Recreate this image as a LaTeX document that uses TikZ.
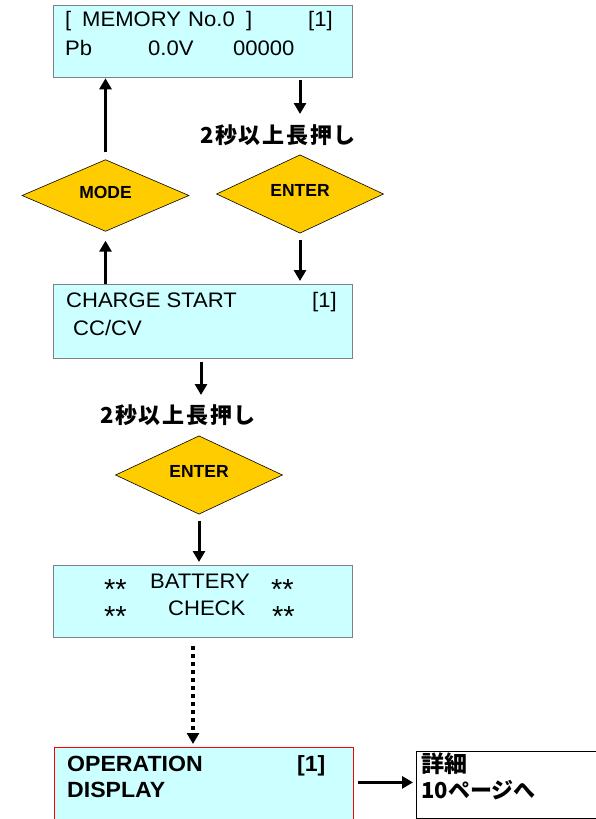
\documentclass[tikz,border=0pt]{standalone}
\usepackage{fontspec}
\setmainfont{Liberation Sans}
\newfontfamily\lcdf[FakeStretch=1.05]{Liberation Sans}
\newfontfamily\cjk{Noto Sans CJK JP}
\newfontfamily\cjkls[LetterSpace=8]{Noto Sans CJK JP}
\usetikzlibrary{shapes.geometric,arrows.meta,calc}
\definecolor{lcd}{HTML}{CCFFFF}
\definecolor{diay}{HTML}{FFCC00}
\definecolor{bord}{HTML}{808080}
\begin{document}
\begin{tikzpicture}[x=1pt,y=-1pt,
  lcdbox/.style={rectangle, draw=bord, line width=1.3pt, fill=lcd, inner sep=0pt, anchor=north west},
  txt/.style={anchor=base west, inner sep=0pt, font=\lcdf\fontsize{21}{24}\selectfont},
  ast/.style={anchor=base west, inner sep=0pt, font=\fontsize{29}{29}\selectfont},
  btxt/.style={anchor=base west, inner sep=0pt, font=\lcdf\bfseries\fontsize{22}{26}\selectfont},
  jtxt/.style={anchor=base west, inner sep=0pt, font=\cjk\bfseries\fontsize{22}{26}\selectfont},
  lbl/.style={anchor=center, inner sep=0pt, font=\cjkls\bfseries\fontsize{22}{24}\selectfont},
  dia/.style={diamond, draw=black, line width=0.6pt, fill=diay, minimum width=167pt, minimum height=66pt, inner sep=0pt, text depth=7pt, font=\bfseries\fontsize{17.5}{17.5}\selectfont},
  arr/.style={line width=3pt, -{Triangle[width=12pt,length=11pt]}},
  dotarr/.style={line width=3.5pt, dash pattern=on 3.5pt off 4.5pt, -{Triangle[width=12pt,length=11pt]}}
]
\useasboundingbox (0,0) rectangle (595,819);
\fill[white] (0,0) rectangle (595,819);

% box 1
\node[lcdbox, minimum width=299pt, minimum height=72pt] (b1) at (53,5) {};
\node[txt] (b1a) at (65,27) {[};
\node[txt] (b1b) at (82,27) {MEMORY};
\node[txt] (b1c) at (188,27) {No.0};
\node[txt] (b1d) at (246,27) {]};
\node[txt] (b1e) at (308,27) {[1]};
\node[txt] (b1f) at (65,55) {Pb};
\node[txt] (b1g) at (148,55) {0.0V};
\node[txt] (b1h) at (233,55) {00000};

% diamonds row 1
\node[dia] (mode) at (105.5,195.5) {MODE};
\node[dia] (e1) at (300,194) {ENTER};
\node[lbl] (lab1) at (278,135) {2秒以上長押し};

% box 2
\node[lcdbox, minimum width=299pt, minimum height=74pt] (b2) at (53,284) {};
\node[txt] (b2a) at (66,307) {CHARGE START};
\node[txt] (b2b) at (312,307) {[1]};
\node[txt] (b2c) at (73,335) {CC/CV};

\node[lbl] (lab2) at (178,415) {2秒以上長押し};
\node[dia] (e2) at (199,475) {ENTER};

% box 3
\node[lcdbox, minimum width=299pt, minimum height=72pt] (b3) at (53,565) {};
\node[ast] (b3a) at (104,599) {**};
\node[txt] (b3b) at (150,588) {BATTERY};
\node[ast] (b3c) at (271,599) {**};
\node[ast] (b3d) at (104,626) {**};
\node[txt] (b3e) at (168,615) {CHECK};
\node[ast] (b3f) at (272,626) {**};

% box 4
\node[lcdbox, draw=red, line width=0.8pt, minimum width=299pt, minimum height=80pt] (b4) at (54,747) {};
\node[btxt] (b4a) at (67,771) {OPERATION};
\node[btxt] (b4b) at (297,771) {[1]};
\node[btxt] (b4c) at (67,797) {DISPLAY};

% box 5
\node[rectangle, draw=black, line width=0.8pt, fill=white, inner sep=0pt, anchor=north west, minimum width=200pt, minimum height=67pt] (b5) at (416,751) {};
\node[jtxt, font=\cjk\bfseries\fontsize{23}{26}\selectfont] (b5a) at (421,772) {詳細};
\node[jtxt] (b5b) at (421,798) {10ページへ};

% connectors
\draw[arr, shorten <=7pt] (mode.north) -- (mode.north |- b1.south);
\draw[arr, shorten >=9pt] (mode.south |- b2.north) -- (mode.south);
\draw[arr] ([yshift=-2pt]e1.north |- b1.south) -- ([yshift=21pt]e1.north |- lab1.center);
\draw[arr, shorten <=7pt, shorten >=3pt] (e1.south) -- (e1.south |- b2.north);
\draw[arr] ([xshift=2pt,yshift=-3pt]e2.north |- b2.south) -- ([xshift=2pt,yshift=20pt]e2.north |- lab2.center);
\draw[arr, shorten <=7pt, shorten >=3pt] (e2.south) -- (e2.south |- b3.north);
\draw[dotarr] ([xshift=140pt,yshift=-8pt]b3.south west) -- ([xshift=140pt,yshift=3pt]b3.south west |- b4.north);
\draw[arr, shorten >=3pt] ([xshift=4pt,yshift=5pt]b4.east) -- ([yshift=5pt]b4.east -| b5.west);
\end{tikzpicture}
\end{document}
